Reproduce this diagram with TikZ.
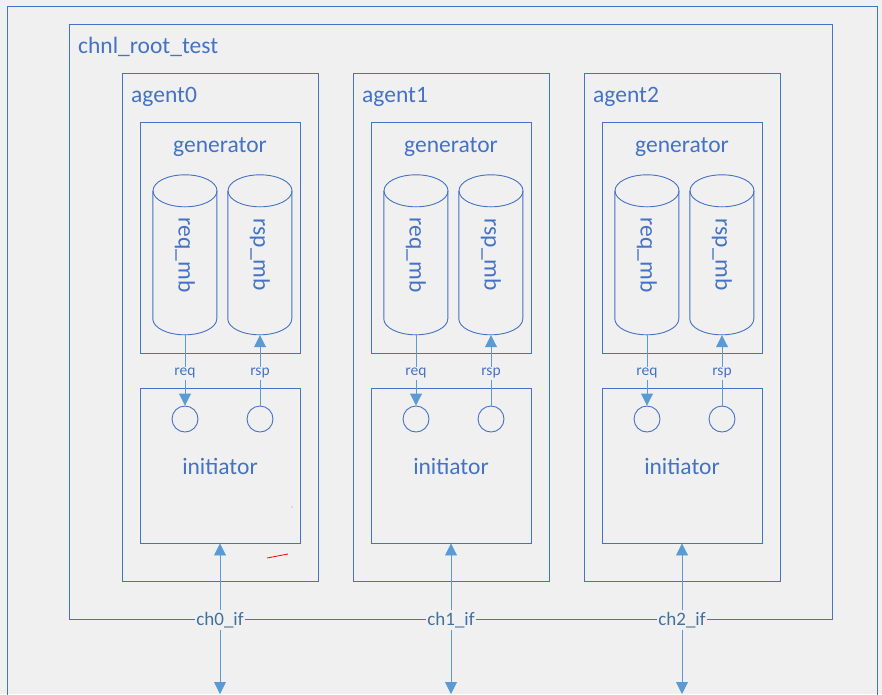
\documentclass[tikz,border=0pt]{standalone}
\usepackage{fontspec}
\setmainfont{Carlito}
\usetikzlibrary{arrows.meta}
\definecolor{bgc}{HTML}{F0F0F0}
\definecolor{lnc}{HTML}{4472C4}
\definecolor{arwc}{HTML}{5B9BD5}
\definecolor{txc}{HTML}{4472C4}
\definecolor{chc}{HTML}{41719C}
\begin{document}
\begin{tikzpicture}[x=1pt,y=-1pt,
  box/.style={draw=lnc, line width=0.9pt, rectangle, inner sep=0pt},
  cylline/.style={draw=lnc, line width=0.9pt},
  big/.style={text=txc, font=\fontsize{23.5}{28}\selectfont, inner sep=0pt},
  small/.style={text=txc, font=\fontsize{15.5}{18}\selectfont, fill=bgc, inner sep=1.5pt, yshift=-3pt},
  chlab/.style={text=chc, font=\fontsize{19}{22}\selectfont, fill=bgc, inner sep=1.5pt},
  arr/.style={draw=arwc, line width=0.9pt, -{Triangle[length=12pt,width=12pt]}},
  port/.style={circle, draw=lnc, line width=0.9pt, minimum size=26pt, inner sep=0pt},
  cylnode/.style={rectangle, draw=none, minimum width=64pt, minimum height=160pt, inner sep=0pt}]
\useasboundingbox (0,0) rectangle (882,694);
\fill[bgc] (0,0) rectangle (882,694);
\clip (0,0) rectangle (882,694);
% outer frame
\node[box, minimum width=870pt, minimum height=720pt] (frame) at (442,366) {};
% root
\node[box, minimum width=763pt, minimum height=595pt] (root) at (450.5,321.5) {};
\node[big, anchor=base west] (rootlbl) at (78,53) {chnl\_root\_test};
\foreach \i in {0,1,2} {
  \begin{scope}[xshift=\i*231pt]
    \node[box, minimum width=196pt, minimum height=508pt] (agent\i) at (220,327) {};
    \node[big, anchor=base west] (agentlbl\i) at (131,102) {agent\i};
    \node[box, minimum width=160pt, minimum height=231pt] (gen\i) at (220,237.5) {};
    \node[big, anchor=base] (genlbl\i) at (220,152) {generator};
    \node[box, minimum width=160pt, minimum height=155pt] (init\i) at (220,465.5) {};
    \node[big, anchor=base] (initlbl\i) at (220,474) {initiator};
    % cylinders
    \node[cylnode] (req\i) at (185,255) {};
    \node[cylnode] (rsp\i) at (260,255) {};
    \foreach \c in {req,rsp} {
      \draw[cylline] (\c\i.north west) ++(0,16) -- ++(0,128)
        .. controls +(0,8.8) and +(-17.7,0) .. ++(32,16)
        .. controls +(17.7,0) and +(0,8.8) .. ++(32,-16) -- ++(0,-128);
      \draw[cylline] (\c\i.north) ++(0,16) ellipse [x radius=32pt, y radius=16pt];
    }
    \node[big, rotate=-90] (reqlbl\i) at (req\i.center) {req\_mb};
    \node[big, rotate=-90] (rsplbl\i) at (rsp\i.center) {rsp\_mb};
    % ports
    \node[port] (rqport\i) at (185,419) {};
    \node[port] (rsport\i) at (260,419) {};
    \draw[arr] (req\i.south) -- (rqport\i.north) node[small, midway] {req};
    \draw[arr] (rsport\i.north) -- (rsp\i.south) node[small, midway] {rsp};
    % channel
    \node[chlab] (ch\i) at (220,620) {ch\i\_if};
    \coordinate (out\i) at (220,694);
    \draw[arr] (ch\i) -- (init\i.south);
    \draw[arr] (ch\i) -- (out\i);
  \end{scope}
}
% stray red marks
\draw[red, line width=0.8pt] (267,558) .. controls (277,556) .. (288,554);
\fill[red!60] (292,507) circle [radius=0.6pt];
\end{tikzpicture}
\end{document}
